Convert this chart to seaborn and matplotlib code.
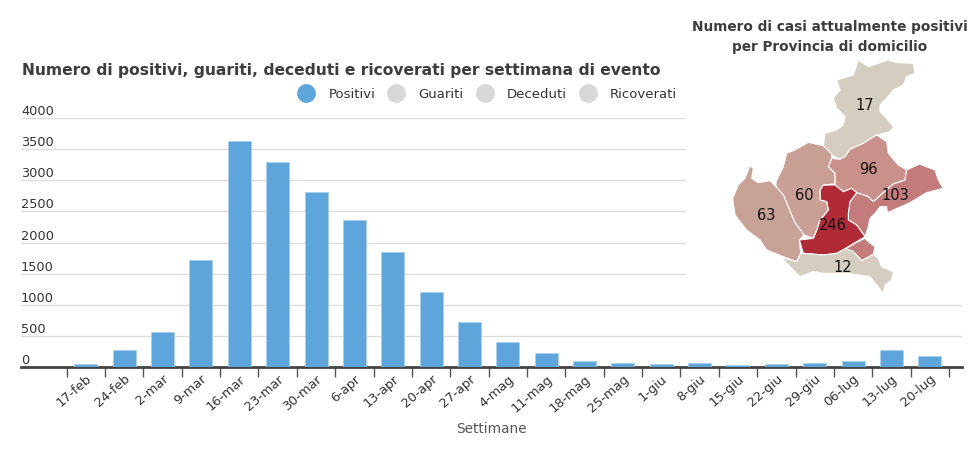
import matplotlib
matplotlib.use("Agg")
import matplotlib.pyplot as plt
from matplotlib.lines import Line2D
from matplotlib.patches import Polygon
import pandas as pd
import seaborn as sns

settimane = ["17-feb", "24-feb", "2-mar", "9-mar", "16-mar", "23-mar", "30-mar", "6-apr",
             "13-apr", "20-apr", "27-apr", "4-mag", "11-mag", "18-mag", "25-mag", "1-giu",
             "8-giu", "15-giu", "22-giu", "29-giu", "06-lug", "13-lug", "20-lug"]
positivi = [50, 273, 565, 1720, 3635, 3292, 2814, 2364, 1850, 1206, 728, 400, 230, 92, 64,
            43, 60, 32, 43, 60, 92, 273, 172]
y_ticks = [0, 500, 1000, 1500, 2000, 2500, 3000, 3500, 4000]
serie = ["Positivi", "Guariti", "Deceduti", "Ricoverati"]

province = ["Belluno", "Treviso", "Venezia", "Padova", "Vicenza", "Verona", "Rovigo"]
casi = [17, 96, 103, 246, 60, 63, 12]
colori = ["#d5cdbf", "#c9918a", "#c47b7b", "#b02a37", "#c99f96", "#c9a297", "#d5cdbf"]

# outlines
contorni = {
    "Belluno": [[(535, 150), (565, 170), (625, 150), (650, 158), (700, 160), (705, 190), (680, 200),
                 (670, 225), (640, 240), (620, 265), (600, 285), (600, 305), (620, 325), (640, 350),
                 (630, 365), (590, 375), (550, 400), (510, 418), (495, 440), (480, 448), (455, 435),
                 (430, 407), (435, 370), (470, 360), (490, 345), (495, 320), (470, 295), (460, 265),
                 (480, 240), (470, 210), (520, 195)]],
    "Treviso": [[(590, 375), (620, 395), (625, 430), (655, 465), (680, 480), (675, 510), (640, 522),
                 (610, 548), (580, 575), (565, 560), (530, 548), (515, 535), (490, 545), (465, 525),
                 (465, 490), (445, 470), (455, 445), (480, 448), (495, 440), (510, 418), (550, 400)]],
    "Venezia": [[(680, 480), (718, 462), (765, 480), (775, 510), (790, 535), (740, 548), (690, 578),
                 (640, 600), (622, 608), (620, 590), (600, 590), (585, 610), (570, 625), (565, 650),
                 (555, 680), (530, 645), (505, 630), (505, 610), (510, 575), (530, 548), (565, 560),
                 (580, 575), (610, 548), (640, 522), (675, 510)],
                [(555, 685), (565, 695), (585, 710), (580, 733), (545, 752), (520, 725), (497, 716),
                 (530, 697)]],
    "Padova": [[(430, 525), (465, 525), (490, 545), (515, 535), (530, 548), (510, 575), (505, 610),
                (505, 630), (530, 645), (555, 680), (530, 695), (495, 716), (470, 730), (430, 735),
                (370, 730), (358, 690), (400, 685), (410, 660), (420, 630), (445, 600), (440, 575),
                (420, 570), (420, 540)]],
    "Vicenza": [[(385, 397), (430, 407), (455, 432), (455, 445), (445, 470), (465, 490), (465, 522),
                 (430, 525), (420, 540), (420, 570), (440, 575), (445, 600), (420, 630), (410, 660),
                 (400, 685), (372, 675), (345, 638), (330, 603), (310, 555), (288, 530), (288, 515),
                 (310, 470), (320, 430), (345, 420)]],
    "Verona": [[(210, 468), (220, 475), (215, 505), (235, 518), (270, 512), (288, 530), (310, 555),
                (330, 603), (345, 638), (372, 675), (358, 690), (362, 730), (350, 755), (310, 740),
                (260, 720), (240, 690), (200, 660), (165, 615), (158, 565), (175, 525), (195, 505)]],
    "Rovigo": [[(305, 742), (350, 755), (362, 730), (370, 730), (430, 735), (470, 730), (497, 716),
                (520, 725), (545, 752), (580, 733), (595, 745), (605, 770), (640, 785), (635, 810),
                (615, 825), (610, 850), (590, 825), (570, 800), (500, 790), (430, 790), (400, 785),
                (360, 800), (330, 770)]],
}
etichette = {"Belluno": (555, 285), "Treviso": (566, 480), "Venezia": (645, 558), "Padova": (458, 645),
             "Vicenza": (373, 555), "Verona": (258, 615), "Rovigo": (487, 772)}

W, H = 980, 450
sns.set_theme(style="white")
plt.rcParams["font.family"] = ["DejaVu Sans"]

df = pd.DataFrame({"settimana": settimane, "positivi": positivi})

fig = plt.figure(figsize=(W / 100, H / 100), dpi=100)
ax = fig.add_axes([21 / W, 1 - 367 / H, (962 - 21) / W, (367 - 118) / H])
sns.barplot(data=df, x="settimana", y="positivi", color="#5da5da", saturation=1, width=0.6,
            edgecolor="#a9d0ee", linewidth=0.5, ax=ax, zorder=3)
ax.set_xlim(-1.691, 22.84)
ax.set_ylim(0, 4000)
ax.set_yticks(y_ticks)
ax.set_yticklabels([str(v) for v in y_ticks], ha="left", va="bottom", fontsize=9.3, color="#333333")
ax.tick_params(axis="y", length=0, pad=0)
ax.grid(axis="y", color="#dddddd", linewidth=1)
ax.set_axisbelow(True)
for lato in ["top", "left", "right"]:
    ax.spines[lato].set_visible(False)
ax.spines["bottom"].set_color("#444444")
ax.spines["bottom"].set_linewidth(2)

ax.set_xticks(range(len(settimane)))
ax.set_xticklabels(settimane, rotation=41, ha="right", va="top", rotation_mode="anchor",
                   fontsize=9.3, color="#333333")
ax.set_xticks([i - 0.5 for i in range(len(settimane) + 1)], minor=True)
ax.tick_params(axis="x", which="major", length=0, pad=4)
ax.tick_params(axis="x", which="minor", bottom=True, length=7, width=1, color="#555555")
ax.set_xlabel("")
ax.set_ylabel("")

fig.text(491 / W, 1 - 429 / H, "Settimane", ha="center", va="center", fontsize=9.8, color="#555555")
fig.text(22 / W, 1 - 70 / H, "Numero di positivi, guariti, deceduti e ricoverati per settimana di evento",
         ha="left", va="center", fontsize=11.2, fontweight="bold", color="#3d3d3d")

maniglie = [Line2D([], [], linestyle="", marker="o", markersize=12.5,
                   color="#5da5da" if s == "Positivi" else "#d8d8d8", label=s) for s in serie]
fig.legend(handles=maniglie, loc="center", bbox_to_anchor=(485 / W, 1 - 94 / H), ncols=4, frameon=False,
           fontsize=9.55, labelcolor="#333333", handletextpad=0.68, columnspacing=0.58)

# map panel, in a white box that hides the gridlines behind it
mappa = fig.add_axes([686 / W, 1 - 300 / H, (W - 686) / W, 290 / H], zorder=5)
mappa.set_xlim(18, 900)
mappa.set_ylim(870, 0)
mappa.set_facecolor("white")
mappa.set_xticks([])
mappa.set_yticks([])
for s in mappa.spines.values():
    s.set_visible(False)
for nome, valore, colore in zip(province, casi, colori):
    for parte in contorni[nome]:
        mappa.add_patch(Polygon(parte, closed=True, facecolor=colore, edgecolor="white", linewidth=0.8))
    x, y = etichette[nome]
    mappa.text(x, y, str(valore), ha="center", va="center", fontsize=10.5, color="#111111")

fig.text(830 / W, 1 - 37 / H, "Numero di casi attualmente positivi\nper Provincia di domicilio",
         ha="center", va="center", fontsize=9.85, fontweight="bold", color="#3d3d3d",
         linespacing=1.6, zorder=6)

fig.savefig("out.png", dpi=100)
